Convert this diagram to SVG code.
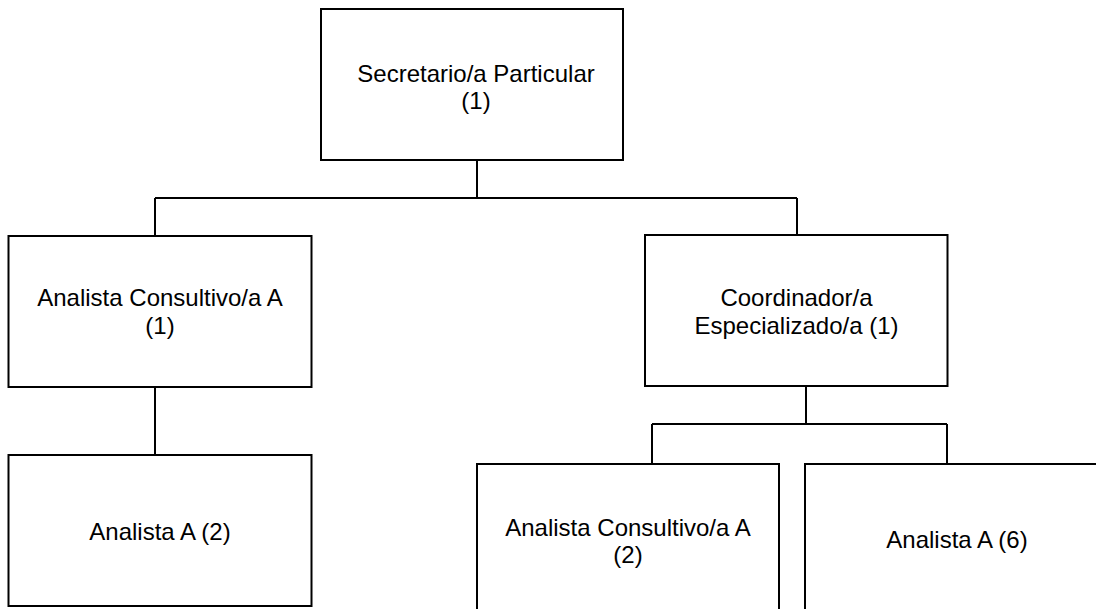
<svg xmlns="http://www.w3.org/2000/svg" width="1096" height="609" viewBox="0 0 1096 609">
<style>
.box{fill:#fff;stroke:#000;stroke-width:2}
.con{fill:none;stroke:#000;stroke-width:2}
.t{font-family:"Liberation Sans",Arial,sans-serif;font-size:24px;fill:#000;text-anchor:middle}
</style>
<rect width="1096" height="609" fill="#fff"/>
<g id="connectors" class="con">
<path d="M477 160V198M155 198H797M155 198V236M797 198V235"/>
<path d="M155 387V455"/>
<path d="M806 386V424M652 424H947M652 424V464M947 424V464"/>
</g>
<g id="n1"><rect class="box" x="321" y="9" width="302" height="151"/>
<text class="t" x="476" y="81.5">Secretario/a Particular</text><text class="t" x="476" y="108.5">(1)</text></g>
<g id="n2"><rect class="box" x="8.5" y="236" width="303" height="151"/>
<text class="t" x="160" y="306">Analista Consultivo/a A</text><text class="t" x="160" y="333.5">(1)</text></g>
<g id="n3"><rect class="box" x="645" y="235" width="302.5" height="151"/>
<text class="t" x="796.5" y="306">Coordinador/a</text><text class="t" x="796.5" y="333.5">Especializado/a (1)</text></g>
<g id="n4"><rect class="box" x="8.5" y="455" width="303" height="151"/>
<text class="t" x="160" y="539.5">Analista A (2)</text></g>
<g id="n5"><rect class="box" x="477" y="464" width="302" height="155"/>
<text class="t" x="628" y="535.5">Analista Consultivo/a A</text><text class="t" x="628" y="563">(2)</text></g>
<g id="n6"><rect class="box" x="805" y="464" width="304" height="155"/>
<text class="t" x="957" y="548">Analista A (6)</text></g>
</svg>
